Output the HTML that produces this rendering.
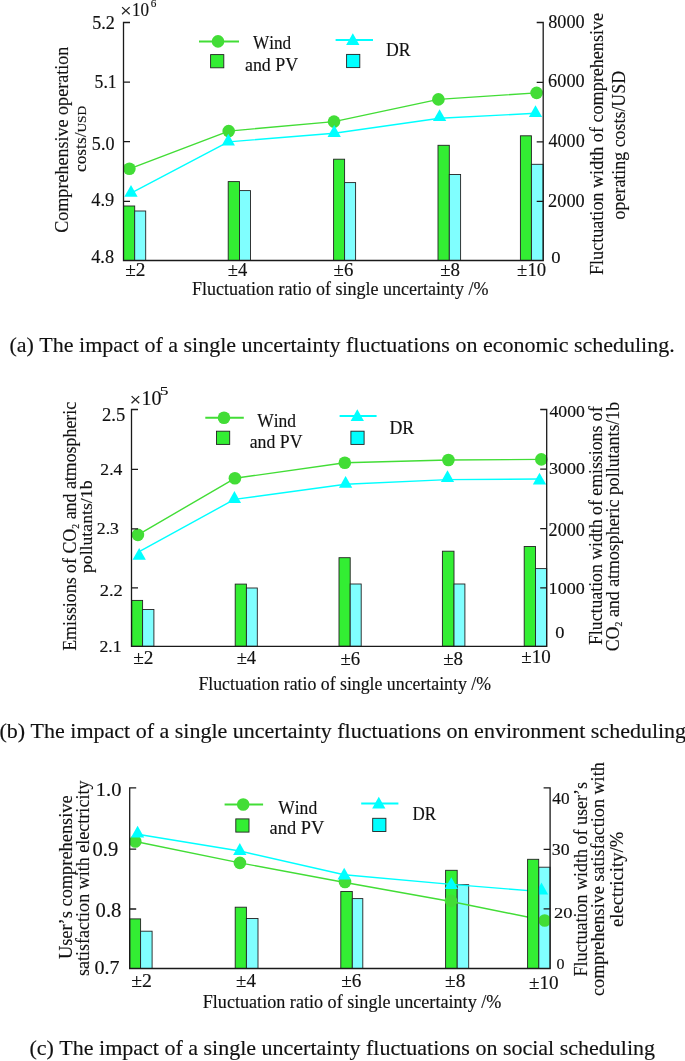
<!DOCTYPE html><html><head><meta charset="utf-8"><title>Uncertainty fluctuation impact</title><style>html,body{margin:0;padding:0;background:#fff;overflow:hidden}svg{display:block;will-change:transform}text{font-family:"Liberation Serif",serif;font-kerning:none;stroke:#111;stroke-width:0.15px}</style></head><body>
<svg width="685" height="1061" viewBox="0 0 685 1061">
<rect width="685" height="1061" fill="#fff"/>
<rect x="123.50" y="206.00" width="11.20" height="54.50" fill="#33ee33" stroke="#222" stroke-width="0.9"/>
<rect x="134.70" y="211.00" width="11.00" height="49.50" fill="#80ffff" stroke="#222" stroke-width="0.9"/>
<rect x="228.20" y="181.60" width="11.30" height="78.90" fill="#33ee33" stroke="#222" stroke-width="0.9"/>
<rect x="239.50" y="190.60" width="11.00" height="69.90" fill="#80ffff" stroke="#222" stroke-width="0.9"/>
<rect x="333.60" y="159.20" width="11.00" height="101.30" fill="#33ee33" stroke="#222" stroke-width="0.9"/>
<rect x="344.60" y="182.60" width="11.00" height="77.90" fill="#80ffff" stroke="#222" stroke-width="0.9"/>
<rect x="438.00" y="145.30" width="11.30" height="115.20" fill="#33ee33" stroke="#222" stroke-width="0.9"/>
<rect x="449.30" y="174.50" width="11.30" height="86.00" fill="#80ffff" stroke="#222" stroke-width="0.9"/>
<rect x="520.40" y="135.80" width="11.00" height="124.70" fill="#33ee33" stroke="#222" stroke-width="0.9"/>
<rect x="531.40" y="164.30" width="11.80" height="96.20" fill="#80ffff" stroke="#222" stroke-width="0.9"/>
<path d="M129.40 168.80 L228.70 131.10 L334.00 121.60 L438.40 99.40 L536.60 92.90" fill="none" stroke="#42dd36" stroke-width="1.4" stroke-linejoin="round"/>
<path d="M131.00 193.10 L228.30 141.90 L334.20 133.20 L439.60 118.20 L535.50 113.30" fill="none" stroke="#00ffff" stroke-width="1.4" stroke-linejoin="round"/>
<circle cx="129.40" cy="168.80" r="6.3" fill="#42dd36"/>
<circle cx="228.70" cy="131.10" r="6.3" fill="#42dd36"/>
<circle cx="334.00" cy="121.60" r="6.3" fill="#42dd36"/>
<circle cx="438.40" cy="99.40" r="6.3" fill="#42dd36"/>
<circle cx="536.60" cy="92.90" r="6.3" fill="#42dd36"/>
<path d="M131.00 185.00L137.65 196.80L124.35 196.80Z" fill="#00ffff"/>
<path d="M228.30 133.80L234.95 145.60L221.65 145.60Z" fill="#00ffff"/>
<path d="M334.20 125.10L340.85 136.90L327.55 136.90Z" fill="#00ffff"/>
<path d="M439.60 109.30L446.25 121.10L432.95 121.10Z" fill="#00ffff"/>
<path d="M535.50 105.20L542.15 117.00L528.85 117.00Z" fill="#00ffff"/>
<path d="M130.0 22.5H123.5V260.5H543.2V22.5H536.7" fill="none" stroke="#1a1a1a" stroke-width="1.3"/>
<path d="M123.5 82.2H130.0M123.5 141.7H130.0M123.5 201.4H130.0M543.2 82.3H536.7M543.2 141.9H536.7M543.2 201.4H536.7" fill="none" stroke="#1a1a1a" stroke-width="1.3"/>
<path d="M199 41.4H239" stroke="#42dd36" stroke-width="2"/>
<circle cx="218.00" cy="41.40" r="6.3" fill="#42dd36"/>
<rect x="210.6" y="54.6" width="13.2" height="13.2" fill="#33ee33" stroke="#222" stroke-width="0.9"/>
<path d="M335.6 40H373" stroke="#00ffff" stroke-width="2"/>
<path d="M352.80 33.20L359.45 45.00L346.15 45.00Z" fill="#00ffff"/>
<rect x="346.6" y="54.4" width="13.2" height="13.2" fill="#00ffff" stroke="#222" stroke-width="0.9"/>
<text transform="translate(252.98 48.90) scale(0.9559 1)" font-size="18.00" fill="#111">Wind</text>
<text transform="translate(244.97 70.60) scale(0.9950 1)" font-size="18.00" fill="#111">and PV</text>
<text transform="translate(386.09 55.50) scale(0.9922 1)" font-size="17.80" fill="#111">DR</text>
<text transform="translate(92.15 28.50) scale(1.0068 1)" font-size="18.00" fill="#111">5.2</text>
<text transform="translate(94.57 88.10) scale(0.9817 1)" font-size="18.00" fill="#111">5.1</text>
<text transform="translate(91.85 149.80) scale(1.0063 1)" font-size="18.00" fill="#111">5.0</text>
<text transform="translate(91.24 206.30) scale(1.0182 1)" font-size="18.00" fill="#111">4.9</text>
<text transform="translate(91.24 262.60) scale(1.0157 1)" font-size="18.00" fill="#111">4.8</text>
<text transform="translate(548.21 28.20) scale(1.0196 1)" font-size="17.89" fill="#111">8000</text>
<text transform="translate(548.11 87.20) scale(1.0222 1)" font-size="17.89" fill="#111">6000</text>
<text transform="translate(548.55 147.20) scale(1.0099 1)" font-size="17.89" fill="#111">4000</text>
<text transform="translate(548.10 207.00) scale(1.0142 1)" font-size="18.04" fill="#111">2000</text>
<text transform="translate(551.19 263.00) scale(1.0779 1)" font-size="17.29" fill="#111">0</text>
<text transform="translate(120.36 16.82) scale(1.0500 1)" font-size="19.00" fill="#111">×</text>
<text transform="translate(132.10 15.80) scale(0.8927 1)" font-size="19.10" fill="#111">10</text>
<text transform="translate(150.72 7.00) scale(0.9918 1)" font-size="11.33" fill="#111">6</text>
<text transform="translate(125.20 275.60) scale(1.0736 1)" font-size="18.00" fill="#111">±2</text>
<text transform="translate(227.83 275.60) scale(1.0308 1)" font-size="18.00" fill="#111">±4</text>
<text transform="translate(333.62 275.60) scale(1.0457 1)" font-size="18.00" fill="#111">±6</text>
<text transform="translate(440.21 275.60) scale(1.0547 1)" font-size="18.00" fill="#111">±8</text>
<text transform="translate(517.12 275.60) scale(1.0398 1)" font-size="18.00" fill="#111">±10</text>
<text transform="translate(191.88 294.70) scale(1.0010 1)" font-size="18.00" fill="#111">Fluctuation ratio of single uncertainty /%</text>
<text transform="translate(67.90 232.74) rotate(-89.98) scale(1.0041 1)" font-size="18.00" fill="#111">Comprehensive operation</text>
<text transform="translate(86.20 171.96) rotate(-89.98) scale(1.0182 1)" font-size="17.00" fill="#111">costs/<tspan font-size="13.09">USD</tspan></text>
<text transform="translate(603.30 275.02) rotate(-89.98) scale(1.0077 1)" font-size="18.00" fill="#111">Fluctuation width of comprehensive</text>
<text transform="translate(624.50 219.38) rotate(-89.98) scale(0.9941 1)" font-size="18.00" fill="#111">operating costs/USD</text>
<text transform="translate(9.43 352.00) scale(1.0000 1)" font-size="22.00" fill="#111">(a) The impact of a single uncertainty fluctuations on economic scheduling.</text>
<rect x="131.70" y="600.40" width="10.90" height="45.90" fill="#33ee33" stroke="#222" stroke-width="0.9"/>
<rect x="142.60" y="609.50" width="11.30" height="36.80" fill="#80ffff" stroke="#222" stroke-width="0.9"/>
<rect x="235.20" y="584.10" width="11.20" height="62.20" fill="#33ee33" stroke="#222" stroke-width="0.9"/>
<rect x="246.40" y="588.00" width="10.90" height="58.30" fill="#80ffff" stroke="#222" stroke-width="0.9"/>
<rect x="339.00" y="557.70" width="11.20" height="88.60" fill="#33ee33" stroke="#222" stroke-width="0.9"/>
<rect x="350.20" y="584.00" width="11.00" height="62.30" fill="#80ffff" stroke="#222" stroke-width="0.9"/>
<rect x="442.40" y="551.20" width="11.60" height="95.10" fill="#33ee33" stroke="#222" stroke-width="0.9"/>
<rect x="454.00" y="584.00" width="10.90" height="62.30" fill="#80ffff" stroke="#222" stroke-width="0.9"/>
<rect x="524.20" y="546.50" width="11.30" height="99.80" fill="#33ee33" stroke="#222" stroke-width="0.9"/>
<rect x="535.50" y="568.60" width="11.20" height="77.70" fill="#80ffff" stroke="#222" stroke-width="0.9"/>
<path d="M137.90 534.90 L234.90 478.30 L344.80 462.80 L448.40 460.00 L541.30 459.40" fill="none" stroke="#42dd36" stroke-width="1.4" stroke-linejoin="round"/>
<path d="M139.20 551.70 L234.40 499.40 L345.60 484.20 L447.50 479.60 L539.50 479.00" fill="none" stroke="#00ffff" stroke-width="1.4" stroke-linejoin="round"/>
<circle cx="137.90" cy="534.90" r="6.3" fill="#42dd36"/>
<circle cx="234.90" cy="478.30" r="6.3" fill="#42dd36"/>
<circle cx="344.80" cy="462.80" r="6.3" fill="#42dd36"/>
<circle cx="448.40" cy="460.00" r="6.3" fill="#42dd36"/>
<circle cx="541.30" cy="459.40" r="6.3" fill="#42dd36"/>
<path d="M139.20 547.90L145.85 559.70L132.55 559.70Z" fill="#00ffff"/>
<path d="M234.40 491.10L241.05 502.90L227.75 502.90Z" fill="#00ffff"/>
<path d="M345.60 475.90L352.25 487.70L338.95 487.70Z" fill="#00ffff"/>
<path d="M447.50 470.20L454.15 482.00L440.85 482.00Z" fill="#00ffff"/>
<path d="M539.50 472.80L546.15 484.60L532.85 484.60Z" fill="#00ffff"/>
<path d="M138.0 409.5H131.5V646.3H546.7V409.5H540.2" fill="none" stroke="#1a1a1a" stroke-width="1.3"/>
<path d="M131.5 469.4H138.0M131.5 528.8H138.0M131.5 587.8H138.0M546.7 469.2H540.2M546.7 528.7H540.2M546.7 587.8H540.2" fill="none" stroke="#1a1a1a" stroke-width="1.3"/>
<path d="M205.3 417.7H243.8" stroke="#42dd36" stroke-width="2"/>
<circle cx="224.00" cy="417.70" r="6.3" fill="#42dd36"/>
<rect x="216.5" y="431.2" width="13.2" height="13.2" fill="#33ee33" stroke="#222" stroke-width="0.9"/>
<path d="M339.6 416H376.6" stroke="#00ffff" stroke-width="2"/>
<path d="M357.30 409.30L363.95 421.10L350.65 421.10Z" fill="#00ffff"/>
<rect x="350.9" y="431.2" width="13.2" height="13.2" fill="#00ffff" stroke="#222" stroke-width="0.9"/>
<text transform="translate(257.28 426.70) scale(0.9710 1)" font-size="18.00" fill="#111">Wind</text>
<text transform="translate(249.68 447.80) scale(0.9874 1)" font-size="18.00" fill="#111">and PV</text>
<text transform="translate(389.49 433.60) scale(1.0005 1)" font-size="17.80" fill="#111">DR</text>
<text transform="translate(101.98 420.80) scale(1.0346 1)" font-size="17.97" fill="#111">2.5</text>
<text transform="translate(100.32 475.40) scale(1.0523 1)" font-size="16.76" fill="#111">2.4</text>
<text transform="translate(96.82 534.30) scale(1.0775 1)" font-size="16.46" fill="#111">2.3</text>
<text transform="translate(99.69 595.70) scale(1.1040 1)" font-size="16.76" fill="#111">2.2</text>
<text transform="translate(99.52 651.80) scale(1.0379 1)" font-size="17.07" fill="#111">2.1</text>
<text transform="translate(549.45 416.60) scale(1.0611 1)" font-size="16.69" fill="#111">4000</text>
<text transform="translate(548.94 474.40) scale(1.1383 1)" font-size="15.79" fill="#111">3000</text>
<text transform="translate(548.60 536.20) scale(0.9944 1)" font-size="18.19" fill="#111">2000</text>
<text transform="translate(548.61 594.30) scale(1.1316 1)" font-size="15.94" fill="#111">1000</text>
<text transform="translate(555.20 638.00) scale(1.1546 1)" font-size="15.94" fill="#111">0</text>
<text transform="translate(129.86 405.52) scale(1.0500 1)" font-size="19.00" fill="#111">×</text>
<text transform="translate(141.44 404.80) scale(0.9937 1)" font-size="20.15" fill="#111">10</text>
<text transform="translate(159.69 395.40) scale(1.4047 1)" font-size="12.37" fill="#111">5</text>
<text transform="translate(133.20 664.10) scale(1.0736 1)" font-size="18.00" fill="#111">±2</text>
<text transform="translate(236.63 664.10) scale(1.0308 1)" font-size="18.00" fill="#111">±4</text>
<text transform="translate(340.42 665.30) scale(1.0457 1)" font-size="18.00" fill="#111">±6</text>
<text transform="translate(443.21 665.30) scale(1.0547 1)" font-size="18.00" fill="#111">±8</text>
<text transform="translate(521.31 662.70) scale(1.0550 1)" font-size="18.00" fill="#111">±10</text>
<text transform="translate(198.39 690.10) scale(0.9878 1)" font-size="18.00" fill="#111">Fluctuation ratio of single uncertainty /%</text>
<text transform="translate(76.00 650.81) rotate(-89.98) scale(0.9930 1)" font-size="18.00" fill="#111">Emissions of CO<tspan font-size="9.90" dy="2.70">2</tspan><tspan dy="-2.70"> and atmospheric</tspan></text>
<text transform="translate(91.70 573.09) rotate(-89.98) scale(1.0139 1)" font-size="17.50" fill="#111">pollutants/1b</text>
<text transform="translate(601.60 645.01) rotate(-89.98) scale(0.9856 1)" font-size="18.00" fill="#111">Fluctuation width of emissions of</text>
<text transform="translate(619.40 651.33) rotate(-89.98) scale(0.9932 1)" font-size="18.00" fill="#111">CO<tspan font-size="9.90" dy="2.70">2</tspan><tspan dy="-2.70"> and atmospheric pollutants/1b</tspan></text>
<text transform="translate(-0.57 738.00) scale(1.0000 1)" font-size="22.00" fill="#111">(b) The impact of a single uncertainty fluctuations on environment scheduling</text>
<rect x="129.70" y="918.90" width="10.90" height="49.60" fill="#33ee33" stroke="#222" stroke-width="0.9"/>
<rect x="140.60" y="931.20" width="11.50" height="37.30" fill="#80ffff" stroke="#222" stroke-width="0.9"/>
<rect x="235.20" y="907.20" width="11.20" height="61.30" fill="#33ee33" stroke="#222" stroke-width="0.9"/>
<rect x="246.40" y="918.50" width="11.60" height="50.00" fill="#80ffff" stroke="#222" stroke-width="0.9"/>
<rect x="340.80" y="891.50" width="11.50" height="77.00" fill="#33ee33" stroke="#222" stroke-width="0.9"/>
<rect x="352.30" y="898.60" width="10.50" height="69.90" fill="#80ffff" stroke="#222" stroke-width="0.9"/>
<rect x="445.60" y="870.30" width="11.60" height="98.20" fill="#33ee33" stroke="#222" stroke-width="0.9"/>
<rect x="457.20" y="884.70" width="11.50" height="83.80" fill="#80ffff" stroke="#222" stroke-width="0.9"/>
<rect x="538.70" y="867.20" width="11.40" height="101.30" fill="#80ffff" stroke="#222" stroke-width="0.9"/>
<path d="M135.30 841.50 L239.90 862.90 L345.00 882.50 L451.00 901.50 L544.70 920.50" fill="none" stroke="#42dd36" stroke-width="1.4" stroke-linejoin="round"/>
<path d="M137.60 834.30 L239.80 851.00 L344.20 874.80 L451.30 884.40 L541.50 891.60" fill="none" stroke="#00ffff" stroke-width="1.4" stroke-linejoin="round"/>
<circle cx="135.30" cy="841.50" r="6.3" fill="#42dd36"/>
<circle cx="239.90" cy="862.90" r="6.3" fill="#42dd36"/>
<circle cx="345.00" cy="882.00" r="6.3" fill="#42dd36"/>
<circle cx="451.00" cy="900.90" r="6.3" fill="#42dd36"/>
<circle cx="544.70" cy="920.50" r="6.3" fill="#42dd36"/>
<path d="M137.60 825.70L144.25 837.50L130.95 837.50Z" fill="#00ffff"/>
<path d="M239.80 843.10L246.45 854.90L233.15 854.90Z" fill="#00ffff"/>
<path d="M344.20 867.70L350.85 879.50L337.55 879.50Z" fill="#00ffff"/>
<path d="M451.30 877.30L457.95 889.10L444.65 889.10Z" fill="#00ffff"/>
<path d="M541.50 882.60L548.15 894.40L534.85 894.40Z" fill="#00ffff"/>
<rect x="527.60" y="859.30" width="11.10" height="109.20" fill="#33ee33" stroke="#222" stroke-width="0.9"/>
<path d="M136.2 787.9H129.7V968.5H550.1V787.9H543.6" fill="none" stroke="#1a1a1a" stroke-width="1.3"/>
<path d="M129.7 849.1H136.2M129.7 909.0H136.2M550.1 849.4H543.6M550.1 908.9H543.6" fill="none" stroke="#1a1a1a" stroke-width="1.3"/>
<path d="M224.6 804.5H263.1" stroke="#42dd36" stroke-width="2"/>
<circle cx="243.20" cy="804.50" r="6.3" fill="#42dd36"/>
<rect x="235.8" y="818.9" width="13.2" height="13.2" fill="#33ee33" stroke="#222" stroke-width="0.9"/>
<path d="M361.2 803.5H398.4" stroke="#00ffff" stroke-width="2"/>
<path d="M378.80 796.80L385.45 808.60L372.15 808.60Z" fill="#00ffff"/>
<rect x="372.7" y="818.3" width="13.2" height="13.2" fill="#00ffff" stroke="#222" stroke-width="0.9"/>
<text transform="translate(278.18 813.50) scale(0.9760 1)" font-size="18.00" fill="#111">Wind</text>
<text transform="translate(269.55 834.40) scale(1.0235 1)" font-size="18.00" fill="#111">and PV</text>
<text transform="translate(412.41 820.20) scale(0.9550 1)" font-size="17.80" fill="#111">DR</text>
<text transform="translate(95.80 795.70) scale(1.0388 1)" font-size="19.70" fill="#111">1.0</text>
<text transform="translate(92.52 855.80) scale(1.0215 1)" font-size="20.15" fill="#111">0.9</text>
<text transform="translate(95.61 917.40) scale(1.0232 1)" font-size="20.15" fill="#111">0.8</text>
<text transform="translate(94.54 974.00) scale(1.0658 1)" font-size="18.80" fill="#111">0.7</text>
<text transform="translate(552.36 803.90) scale(0.9832 1)" font-size="17.59" fill="#111">40</text>
<text transform="translate(551.85 854.70) scale(1.0684 1)" font-size="16.69" fill="#111">30</text>
<text transform="translate(553.89 918.40) scale(1.2074 1)" font-size="15.34" fill="#111">20</text>
<text transform="translate(556.39 969.30) scale(1.1725 1)" font-size="13.68" fill="#111">0</text>
<text transform="translate(131.18 987.20) scale(1.0969 1)" font-size="18.00" fill="#111">±2</text>
<text transform="translate(236.01 987.20) scale(1.0532 1)" font-size="18.00" fill="#111">±4</text>
<text transform="translate(341.20 987.20) scale(1.0684 1)" font-size="18.00" fill="#111">±6</text>
<text transform="translate(444.99 987.20) scale(1.0776 1)" font-size="18.00" fill="#111">±8</text>
<text transform="translate(529.00 989.20) scale(1.0375 1)" font-size="18.50" fill="#111">±10</text>
<text transform="translate(202.68 1007.50) scale(1.0085 1)" font-size="18.00" fill="#111">Fluctuation ratio of single uncertainty /%</text>
<text transform="translate(72.10 959.09) rotate(-89.98) scale(1.0211 1)" font-size="18.00" fill="#111">User’s comprehensive</text>
<text transform="translate(89.40 976.04) rotate(-89.98) scale(1.0040 1)" font-size="18.00" fill="#111">satisfaction with electricity</text>
<text transform="translate(587.20 976.52) rotate(-89.98) scale(1.0005 1)" font-size="18.00" fill="#111">Fluctuation width of user’s</text>
<text transform="translate(604.20 995.99) rotate(-89.98) scale(1.0086 1)" font-size="18.00" fill="#111">comprehensive satisfaction with</text>
<text transform="translate(622.60 927.03) rotate(-89.98) scale(1.0360 1)" font-size="18.00" fill="#111">electricity/%</text>
<text transform="translate(29.43 1055.00) scale(1.0000 1)" font-size="22.00" fill="#111">(c) The impact of a single uncertainty fluctuations on social scheduling</text>
</svg></body></html>
